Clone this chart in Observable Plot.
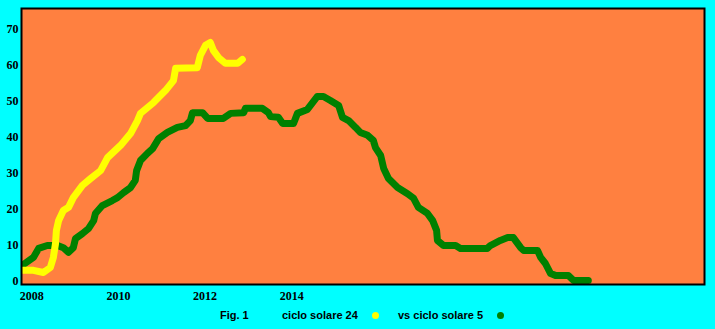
<!DOCTYPE html>
<html>
<head>
<meta charset="utf-8">
<script src="https://cdn.jsdelivr.net/npm/d3@7"></script>
<script src="https://cdn.jsdelivr.net/npm/@observablehq/plot@0.6"></script>
<style>
  html, body { margin: 0; padding: 0; background: #00FFFF; }
  #wrap { position: relative; width: 715px; height: 329px; overflow: hidden; }
  #legend { position: absolute; left: 0; top: 305px; width: 715px; height: 24px;
            font-family: "Liberation Sans", Arial, sans-serif; font-weight: bold; font-size: 11px; color: #000; }
  #legend span.t { position: absolute; top: 4px; white-space: nowrap; }
  #legend span.d { position: absolute; top: 7px; width: 7px; height: 7px; border-radius: 50%; }
</style>
</head>
<body>
<div id="wrap">
  <div id="chart"></div>
  <div id="legend">
    <span class="t" style="left:220px">Fig. 1</span>
    <span class="t" style="left:282px">ciclo solare 24</span>
    <span class="d" style="left:372px;background:#FFFF00"></span>
    <span class="t" style="left:398px">vs ciclo solare 5</span>
    <span class="d" style="left:497px;background:#008000"></span>
  </div>
</div>
<script>
// Solar cycle 24 (yellow)
const yearsC24 = [2007.77, 2008.04, 2008.27, 2008.43, 2008.50, 2008.55, 2008.57, 2008.62, 2008.73, 2008.85,
  2008.96, 2009.17, 2009.36, 2009.59, 2009.75, 2010.05, 2010.28, 2010.44, 2010.51, 2010.81,
  2011.09, 2011.27, 2011.32, 2011.82, 2011.89, 2012.01, 2012.12, 2012.19, 2012.31, 2012.47,
  2012.75, 2012.86];
const valuesC24 = [3.1, 3.1, 2.5, 3.9, 6.7, 10.6, 14.2, 16.9, 19.7, 20.6,
  23.3, 26.7, 28.6, 30.8, 34.4, 37.8, 41.1, 44.7, 46.7, 49.7,
  53.1, 55.8, 59.2, 59.4, 62.8, 65.6, 66.4, 64.2, 62.2, 60.6,
  60.6, 61.7];

// Solar cycle 5 (green), aligned on the same time axis
const yearsC5 = [2007.77, 2008.04, 2008.16, 2008.36, 2008.60, 2008.73, 2008.85, 2008.96, 2009.01, 2009.17,
  2009.31, 2009.43, 2009.47, 2009.63, 2009.86, 2009.98, 2010.12, 2010.28, 2010.39, 2010.42,
  2010.51, 2010.67, 2010.79, 2010.93, 2011.13, 2011.36, 2011.55, 2011.66, 2011.71, 2011.94,
  2012.06, 2012.42, 2012.59, 2012.89, 2012.93, 2013.32, 2013.46, 2013.51, 2013.69, 2013.79,
  2014.04, 2014.13, 2014.36, 2014.48, 2014.59, 2014.73, 2014.89, 2015.08, 2015.17, 2015.31,
  2015.47, 2015.58, 2015.75, 2015.88, 2015.93, 2016.05, 2016.12, 2016.23, 2016.44, 2016.67,
  2016.81, 2016.92, 2017.13, 2017.25, 2017.34, 2017.36, 2017.50, 2017.78, 2017.89, 2018.51,
  2018.58, 2018.81, 2018.98, 2019.11, 2019.28, 2019.35, 2019.67, 2019.74, 2019.85, 2019.97,
  2020.08, 2020.38, 2020.50, 2020.84];
const valuesC5 = [4.4, 6.7, 9.2, 10.0, 10.0, 9.4, 8.1, 9.4, 11.9, 13.3,
  14.7, 16.9, 18.9, 21.1, 22.5, 23.3, 24.7, 26.1, 28.1, 30.8,
  33.6, 35.6, 36.9, 39.7, 41.4, 42.8, 43.3, 44.7, 46.9, 46.9,
  45.3, 45.3, 46.7, 46.9, 48.1, 48.1, 46.9, 45.8, 45.6, 43.9,
  43.9, 46.7, 47.8, 49.7, 51.4, 51.4, 50.3, 48.9, 45.6, 44.7,
  42.8, 41.4, 40.6, 39.2, 37.2, 35.0, 31.4, 28.6, 26.1, 24.4,
  23.1, 20.6, 18.9, 16.9, 14.2, 11.4, 10.0, 10.0, 9.2, 9.2,
  10.0, 11.4, 12.2, 12.2, 9.4, 8.6, 8.6, 6.7, 5.0, 2.2,
  1.7, 1.7, 0.3, 0.3];

const yTicks = [0, 10, 20, 30, 40, 50, 60, 70];
const xTicks = [2008, 2010, 2012, 2014];

const c24 = yearsC24.map((y, i) => ({year: y, value: valuesC24[i]}));
const c5 = yearsC5.map((y, i) => ({year: y, value: valuesC5[i]}));

const chart = Plot.plot({
  width: 715,
  height: 305,
  marginLeft: 21,
  marginRight: 11,
  marginTop: 8,
  marginBottom: 21,
  x: {domain: [2007.765, 2023.52]},
  y: {domain: [-0.83, 75.83]},
  style: {background: "transparent", fontFamily: "'Liberation Serif', 'Times New Roman', serif",
          fontSize: "12px", fontWeight: "bold", color: "black"},
  marks: [
    Plot.frame({fill: "#FF8040", stroke: null}),
    Plot.axisY({ticks: yTicks, tickSize: 0, tickPadding: 3, label: null, fill: "black"}),
    Plot.axisX({ticks: xTicks, tickSize: 0, tickPadding: 7, tickFormat: d => String(d), label: null, fill: "black"}),
    Plot.line(c5, {x: "year", y: "value", stroke: "#008000", strokeWidth: 7,
                   strokeLinejoin: "round", strokeLinecap: "round", clip: true}),
    Plot.line(c24, {x: "year", y: "value", stroke: "#FFFF00", strokeWidth: 7,
                    strokeLinejoin: "round", strokeLinecap: "round", clip: true}),
    Plot.frame({stroke: "black", strokeWidth: 2})
  ]
});
document.getElementById("chart").appendChild(chart);
</script>
</body>
</html>
